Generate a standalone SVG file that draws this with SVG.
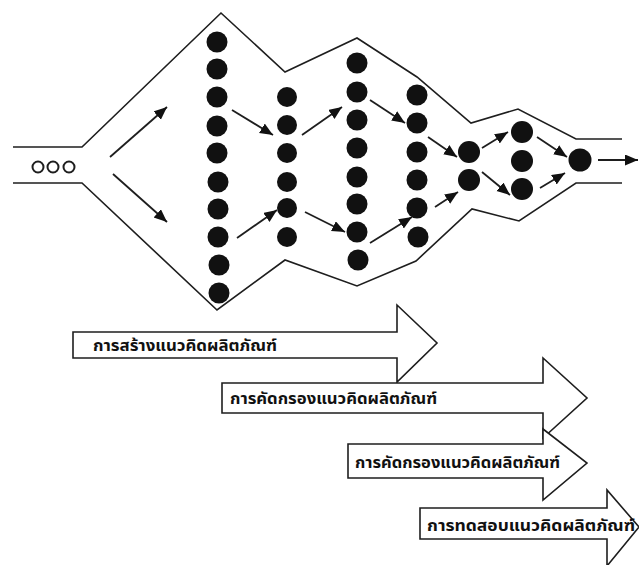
<svg xmlns="http://www.w3.org/2000/svg" width="639" height="565" viewBox="0 0 639 565">
<style>
.bg{fill:#ffffff}
.outline{fill:none;stroke:#1e1e1e;stroke-width:1.6;stroke-linejoin:miter}
.dot{fill:#111111}
.small{fill:#ffffff;stroke:#1e1e1e;stroke-width:2}
.conn{stroke:#1e1e1e;stroke-width:1.8;fill:none;marker-end:url(#ah)}
.block{fill:#ffffff;stroke:#1e1e1e;stroke-width:1.6;stroke-linejoin:miter}
.lbl{font-family:"Noto Sans Thai","Noto Sans","DejaVu Sans",sans-serif;font-weight:bold;font-size:16px;fill:#111111}
</style>
<defs>
<marker id="ah" markerUnits="userSpaceOnUse" markerWidth="14" markerHeight="12" refX="13" refY="5.5" orient="auto">
<path d="M0,0 L13,5.5 L0,11 z" fill="#111111"/>
</marker>
</defs>
<rect class="bg" x="0" y="0" width="639" height="565"/>
<g id="funnel">
<polyline class="outline" points="13,147 82,147 221,13 285,72 357,38 417,77 471,123 518,109 576,139 622,139"/>
<polyline class="outline" points="13,183 82,183 217,310 285,260 357,286 416,261 472,209 519,221 576,183 622,183"/>
</g>
<g id="input">
<circle class="small" cx="38" cy="167" r="5.5"/>
<circle class="small" cx="53" cy="167" r="5.5"/>
<circle class="small" cx="69" cy="167" r="5.5"/>
</g>
<g id="col1">
<circle class="dot" cx="217" cy="42" r="10.5"/>
<circle class="dot" cx="217" cy="69" r="10.5"/>
<circle class="dot" cx="217" cy="97" r="10.5"/>
<circle class="dot" cx="217" cy="126" r="10.5"/>
<circle class="dot" cx="217" cy="153" r="10.5"/>
<circle class="dot" cx="218" cy="182" r="10.5"/>
<circle class="dot" cx="218" cy="209" r="10.5"/>
<circle class="dot" cx="218" cy="237" r="10.5"/>
<circle class="dot" cx="219" cy="265" r="10.5"/>
<circle class="dot" cx="219" cy="293" r="10.5"/>
</g>
<g id="col2">
<circle class="dot" cx="287" cy="97" r="10"/>
<circle class="dot" cx="287" cy="125" r="10"/>
<circle class="dot" cx="287" cy="153" r="10"/>
<circle class="dot" cx="287" cy="182" r="10"/>
<circle class="dot" cx="287" cy="208" r="10"/>
<circle class="dot" cx="287" cy="237" r="10"/>
</g>
<g id="col3">
<circle class="dot" cx="357" cy="63" r="10.5"/>
<circle class="dot" cx="357" cy="92" r="10.5"/>
<circle class="dot" cx="357" cy="120" r="10.5"/>
<circle class="dot" cx="357" cy="148" r="10.5"/>
<circle class="dot" cx="357" cy="177" r="10.5"/>
<circle class="dot" cx="357" cy="204" r="10.5"/>
<circle class="dot" cx="357" cy="232" r="10.5"/>
<circle class="dot" cx="358" cy="260" r="10.5"/>
</g>
<g id="col4">
<circle class="dot" cx="417" cy="95" r="10.5"/>
<circle class="dot" cx="417" cy="123" r="10.5"/>
<circle class="dot" cx="417" cy="152" r="10.5"/>
<circle class="dot" cx="417" cy="180" r="10.5"/>
<circle class="dot" cx="417" cy="208" r="10.5"/>
<circle class="dot" cx="418" cy="237" r="10.5"/>
</g>
<g id="col5">
<circle class="dot" cx="469" cy="152" r="11"/>
<circle class="dot" cx="469" cy="180" r="11"/>
</g>
<g id="col6">
<circle class="dot" cx="522" cy="132" r="11"/>
<circle class="dot" cx="522" cy="161" r="11"/>
<circle class="dot" cx="522" cy="189" r="11"/>
</g>
<g id="col7">
<circle class="dot" cx="580" cy="160" r="11.5"/>
</g>
<g id="connectors">
<line class="conn" x1="110" y1="157" x2="167" y2="107"/>
<line class="conn" x1="113" y1="174" x2="167" y2="222"/>
<line class="conn" x1="232" y1="110" x2="273" y2="135"/>
<line class="conn" x1="237" y1="238" x2="277" y2="210"/>
<line class="conn" x1="302" y1="135" x2="342" y2="107"/>
<line class="conn" x1="305" y1="212" x2="345" y2="232"/>
<line class="conn" x1="370" y1="100" x2="405" y2="123"/>
<line class="conn" x1="370" y1="243" x2="412" y2="217"/>
<line class="conn" x1="428" y1="137" x2="457" y2="157"/>
<line class="conn" x1="435" y1="207" x2="458" y2="192"/>
<line class="conn" x1="482" y1="148" x2="508" y2="132"/>
<line class="conn" x1="482" y1="172" x2="510" y2="195"/>
<line class="conn" x1="537" y1="137" x2="567" y2="157"/>
<line class="conn" x1="540" y1="188" x2="565" y2="173"/>
<line class="conn" x1="598" y1="160" x2="638" y2="160"/>
</g>
<g id="stage1">
<polygon class="block" points="73,332 397,332 397,305 437,343 397,382 397,358 73,358"/>
<text class="lbl" x="93" y="351" textLength="184" lengthAdjust="spacingAndGlyphs">การสร้างแนวคิดผลิตภัณฑ์</text>
</g>
<g id="stage2">
<polygon class="block" points="222,383 543,383 543,358 587,398 543,438 543,413 222,413"/>
<text class="lbl" x="230" y="404" textLength="207" lengthAdjust="spacingAndGlyphs">การคัดกรองแนวคิดผลิตภัณฑ์</text>
</g>
<g id="stage3">
<polygon class="block" points="348,444 543,444 543,429 587,463 543,500 543,478 348,478"/>
<text class="lbl" x="355" y="468" textLength="205" lengthAdjust="spacingAndGlyphs">การคัดกรองแนวคิดผลิตภัณฑ์</text>
</g>
<g id="stage4">
<polygon class="block" points="420,508 607,508 607,490 639,527 607,566 607,539 420,539"/>
<text class="lbl" x="427" y="531" textLength="208" lengthAdjust="spacingAndGlyphs">การทดสอบแนวคิดผลิตภัณฑ์</text>
</g>
</svg>
